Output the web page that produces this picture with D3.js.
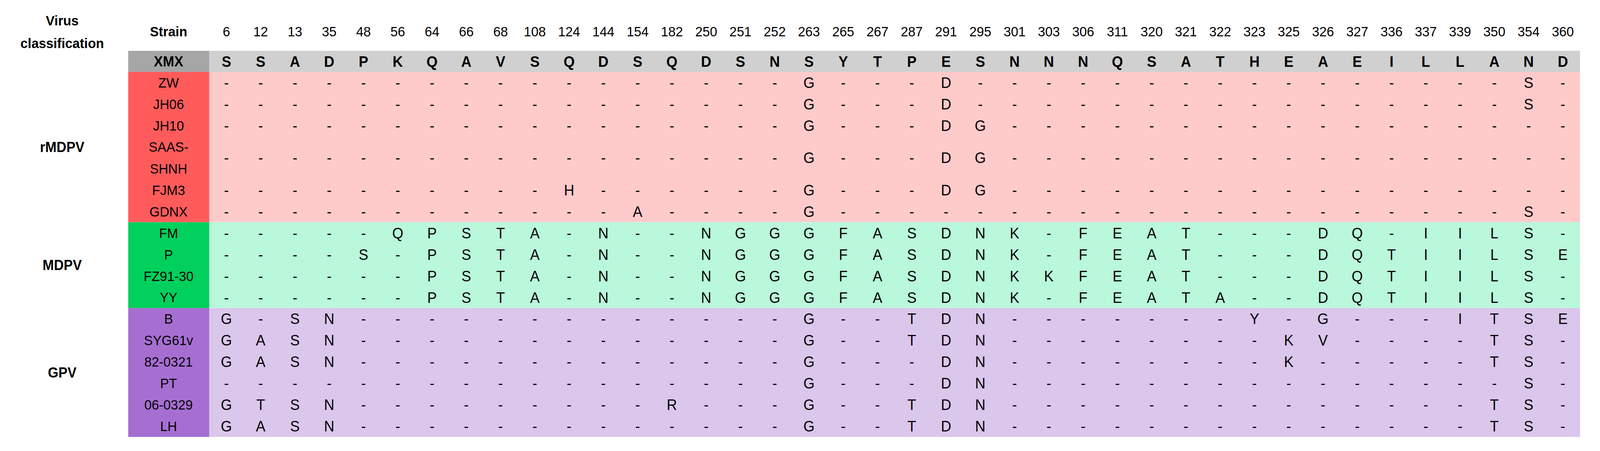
<!DOCTYPE html>
<html><head><meta charset="utf-8">
<script src="https://cdn.jsdelivr.net/npm/d3@7"></script>
<style>html,body{margin:0;padding:0;background:#fff;overflow:hidden}svg{display:block;font-family:"Liberation Sans",Arial,sans-serif}</style>
</head><body>
<script>
const positions = ["6","12","13","35","48","56","64","66","68","108","124","144","154","182","250","251","252","263","265","267","287","291","295","301","303","306","311","320","321","322","323","325","326","327","336","337","339","350","354","360"];
const reference = "S S A D P K Q A V S Q D S Q D S N S Y T P E S N N N Q S A T H E A E I L L A N D";
const groups = ["rMDPV","MDPV","GPV"];
const strains = ["ZW","JH06","JH10","SAAS-SHNH","FJM3","GDNX","FM","P","FZ91-30","YY","B","SYG61v","82-0321","PT","06-0329","LH"];
const strainGroup = ["rMDPV","rMDPV","rMDPV","rMDPV","rMDPV","rMDPV","MDPV","MDPV","MDPV","MDPV","GPV","GPV","GPV","GPV","GPV","GPV"];
const rowUnits = [1,1,1,2,1,1,1,1,1,1,1,1,1,1,1,1];
const sequences = [
"- - - - - - - - - - - - - - - - - G - - - D - - - - - - - - - - - - - - - - S -",
"- - - - - - - - - - - - - - - - - G - - - D - - - - - - - - - - - - - - - - S -",
"- - - - - - - - - - - - - - - - - G - - - D G - - - - - - - - - - - - - - - - -",
"- - - - - - - - - - - - - - - - - G - - - D G - - - - - - - - - - - - - - - - -",
"- - - - - - - - - - H - - - - - - G - - - D G - - - - - - - - - - - - - - - - -",
"- - - - - - - - - - - - A - - - - G - - - - - - - - - - - - - - - - - - - - S -",
"- - - - - Q P S T A - N - - N G G G F A S D N K - F E A T - - - D Q - I I L S -",
"- - - - S - P S T A - N - - N G G G F A S D N K - F E A T - - - D Q T I I L S E",
"- - - - - - P S T A - N - - N G G G F A S D N K K F E A T - - - D Q T I I L S -",
"- - - - - - P S T A - N - - N G G G F A S D N K - F E A T A - - D Q T I I L S -",
"G - S N - - - - - - - - - - - - - G - - T D N - - - - - - - Y - G - - - I T S E",
"G A S N - - - - - - - - - - - - - G - - T D N - - - - - - - - K V - - - - T S -",
"G A S N - - - - - - - - - - - - - G - - - D N - - - - - - - - K - - - - - T S -",
"- - - - - - - - - - - - - - - - - G - - - D N - - - - - - - - - - - - - - - S -",
"G T S N - - - - - - - - - R - - - G - - T D N - - - - - - - - - - - - - - T S -",
"G A S N - - - - - - - - - - - - - G - - T D N - - - - - - - - - - - - - - T S -"
];
const groupDark = {rMDPV:"#ff5b5b", MDPV:"#00d05c", GPV:"#a76ed2"};
const groupLight = {rMDPV:"#ffcaca", MDPV:"#b9f8da", GPV:"#dbc6ec"};

const W=4243,H=1154;
const svg=d3.select("body").append("svg").attr("viewBox",`0 0 ${W} ${H}`)
  .attr("preserveAspectRatio","none").style("width","100vw").style("height","100vh");
const x=d3.scaleBand().domain(positions).range([555,4190]);
const cum=[0]; rowUnits.forEach(u=>cum.push(cum[cum.length-1]+u));
const y=d3.scaleLinear().domain([0,cum[cum.length-1]]).range([184,1118]);
const headTop=130;

svg.append("rect").attr("x",340).attr("y",headTop).attr("width",555-340).attr("height",184-headTop).attr("fill","#a6a6a6");
svg.append("rect").attr("x",555).attr("y",headTop).attr("width",4190-555).attr("height",184-headTop).attr("fill","#d0d0d0");
svg.append("text").attr("x",447).attr("y",157).attr("dy","0.36em").attr("text-anchor","middle").attr("font-weight","bold").attr("font-size",36).text("XMX");
const refArr=reference.split(" ");
svg.selectAll(".ref").data(positions).join("text").attr("x",d=>x(d)+x.bandwidth()/2).attr("y",157).attr("dy","0.36em")
 .attr("text-anchor","middle").attr("font-weight","bold").attr("font-size",38).text((d,i)=>refArr[i]);
svg.selectAll(".pos").data(positions).join("text").attr("x",d=>x(d)+x.bandwidth()/2).attr("y",80).attr("dy","0.36em")
 .attr("text-anchor","middle").attr("font-size",35).text(d=>d);
svg.append("text").attr("x",447).attr("y",80).attr("dy","0.36em").attr("text-anchor","middle").attr("font-weight","bold").attr("font-size",35).text("Strain");
svg.append("text").attr("x",165).attr("y",52).attr("dy","0.36em").attr("text-anchor","middle").attr("font-weight","bold").attr("font-size",35).text("Virus");
svg.append("text").attr("x",165).attr("y",110).attr("dy","0.36em").attr("text-anchor","middle").attr("font-weight","bold").attr("font-size",35).text("classification");

groups.forEach(g=>{
  const idx=strainGroup.map((s,i)=>s===g?i:-1).filter(i=>i>=0);
  const y0=y(cum[idx[0]]), y1=y(cum[idx[idx.length-1]+1]);
  svg.append("rect").attr("x",340).attr("y",y0).attr("width",215).attr("height",y1-y0).attr("fill",groupDark[g]);
  svg.append("rect").attr("x",555).attr("y",y0).attr("width",4190-555).attr("height",y1-y0).attr("fill",groupLight[g]);
  svg.append("text").attr("x",165).attr("y",(y0+y1)/2).attr("dy","0.36em").attr("text-anchor","middle").attr("font-weight","bold").attr("font-size",36).text(g);
});

strains.forEach((s,i)=>{
  const yc=(y(cum[i])+y(cum[i+1]))/2;
  const parts = s==="SAAS-SHNH" ? ["SAAS-","SHNH"] : [s];
  const t=svg.append("text").attr("text-anchor","middle").attr("font-size",35);
  parts.forEach((p,k)=>t.append("tspan").attr("x",447).attr("y",yc+(k-(parts.length-1)/2)*56).attr("dy","0.36em").text(p));
  const arr=sequences[i].split(" ");
  svg.selectAll(null).data(positions).join("text").attr("x",d=>x(d)+x.bandwidth()/2).attr("y",yc).attr("dy","0.36em")
   .attr("text-anchor","middle").attr("font-size",38).text((d,j)=>arr[j]);
});
</script>
</body></html>
